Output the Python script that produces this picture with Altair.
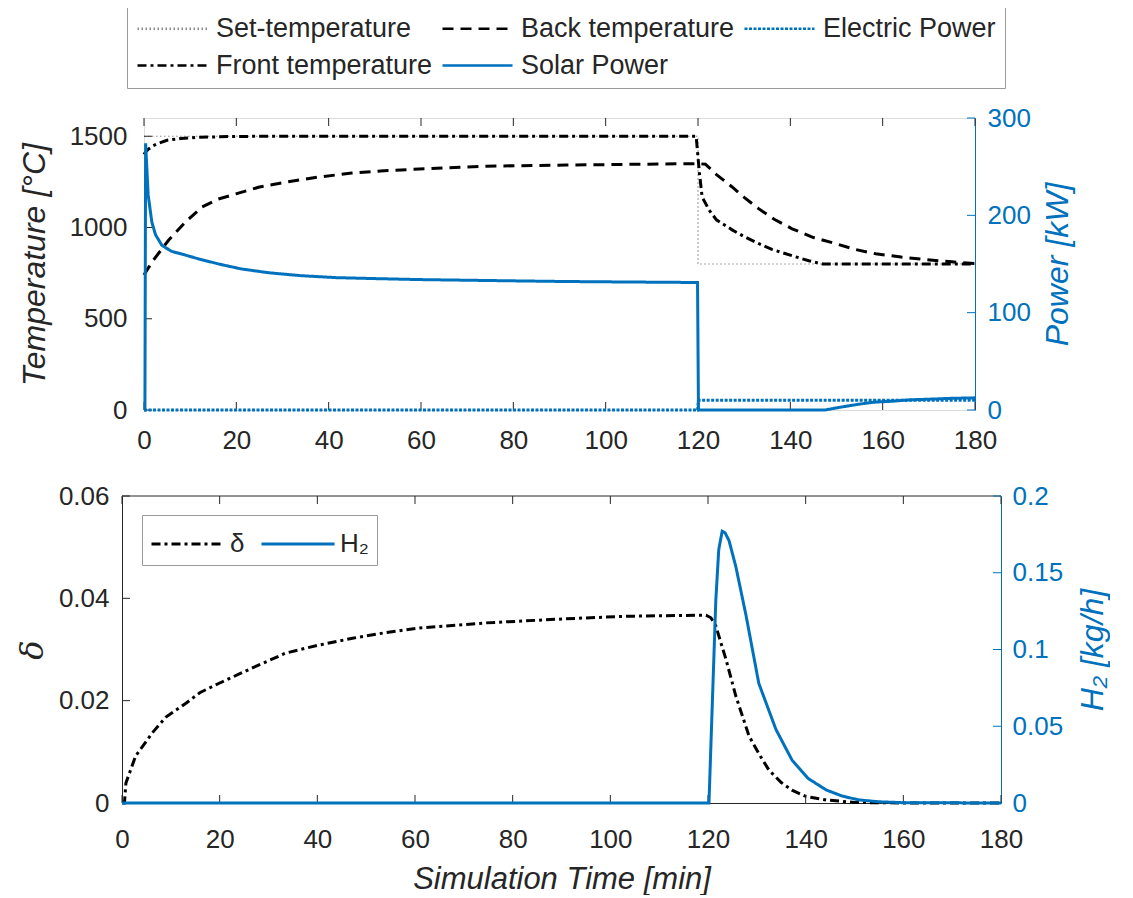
import altair as alt
import pandas as pd

BLUE = "#0072BD"
DARK = "#262626"
GRAY = "#8c8c8c"
FONT = "Liberation Sans"

# ---------------- tick values ----------------
x_ticks = [0, 20, 40, 60, 80, 100, 120, 140, 160, 180]
temp_ticks = [0, 500, 1000, 1500]
power_ticks = [0, 100, 200, 300]
delta_ticks = [0, 0.02, 0.04, 0.06]
h2_ticks = [0, 0.05, 0.1, 0.15, 0.2]

# ---------------- top panel series ----------------
# (legend fills column by column: this order gives the 3-column layout)
top_series = ["Set-temperature", "Front temperature", "Back temperature",
              "Solar Power", "Electric Power"]
top_colors = [GRAY, "black", "black", BLUE, BLUE]
top_dashes = [[1.5, 2.5], [9, 4, 3, 4], [11, 7], [1, 0], [3, 1.5]]
top_widths = {"Set-temperature": 1.2, "Front temperature": 3, "Back temperature": 3,
              "Solar Power": 3, "Electric Power": 3}

set_t = [0, 120, 120, 180]
set_v = [1500, 1500, 800, 800]

front_t = [0, 0.3, 1, 2, 3, 5, 8, 12, 16, 20, 30, 60, 90, 119.6, 120.3, 120.9,
           122.4, 124, 127.4, 130, 133.2, 136, 140.4, 144, 147, 150, 160, 170, 180]
front_v = [1400, 1413, 1430, 1448, 1460, 1478, 1488, 1494, 1497, 1499, 1500, 1500,
           1500, 1500, 1300, 1167, 1096, 1042, 987, 950, 911, 880, 845, 818, 800,
           800, 800, 800, 800]

back_t = [0, 0.7, 2, 5.4, 9, 12.6, 16, 19.9, 25, 30.8, 38, 45, 52, 59.6, 74, 91.4,
          105, 120, 121.6, 124, 127.4, 130, 133.2, 136.5, 140.4, 145, 149.9, 154,
          158.5, 164, 169.3, 175, 180]
back_v = [740, 769, 820, 933, 1030, 1113, 1155, 1184, 1222, 1249, 1277, 1298, 1311,
          1320, 1336, 1342, 1346, 1350, 1347, 1290, 1222, 1165, 1102, 1045, 993, 945,
          911, 880, 856, 838, 824, 812, 802]

solar_t = [0, 0.2, 0.35, 0.9, 1.7, 2.5, 3.9, 6, 9.1, 12, 16.2, 21, 27, 34, 41.6, 50,
           59.6, 75, 91.4, 105, 119.9, 120.1, 147.5, 151, 154.9, 158, 162, 166,
           169.3, 175, 180]
solar_v = [0, 0, 274, 221, 193, 180, 169, 163, 159, 155, 150, 145, 141, 138, 136,
           135, 134, 133, 132, 131.5, 131, 0, 0, 3, 6, 8, 9, 10.5, 11, 12, 12.5]

elec_t = [0, 119.9, 120.1, 180]
elec_v = [0, 0, 10, 10]

# ---------------- bottom panel series ----------------
bot_series = ["δ", "H₂"]
bot_colors = ["black", BLUE]
bot_dashes = [[9, 4, 3, 4], [1, 0]]
bot_widths = {"δ": 3, "H₂": 3}

delta_t = [0, 0.5, 0.8, 2.8, 6.2, 9, 13.1, 16, 19.9, 26.7, 33.5, 40, 47.2, 54, 60.8,
           74.5, 90.9, 103.2, 119.6, 120.6, 121.6, 123.7, 125.7, 128.4, 130.5, 132.5,
           135, 137.2, 140, 144.2, 150, 160, 180]
delta_v = [0, 0, 0.0039, 0.0092, 0.0137, 0.0168, 0.0195, 0.0216, 0.0234, 0.0264,
           0.0293, 0.0308, 0.0322, 0.0333, 0.0342, 0.0352, 0.0360, 0.0365, 0.0367,
           0.0362, 0.0346, 0.028, 0.0209, 0.0131, 0.0095, 0.0064, 0.0040, 0.0025,
           0.0013, 0.0006, 0.0001, 0, 0]

h2_t = [0, 120.2, 120.8, 121.6, 122.2, 122.9, 123.5, 124.3, 125.7, 127.8, 130.4,
        133.9, 137.2, 140.5, 144.2, 147.5, 150.9, 155, 160, 180]
h2_v = [0, 0, 0.057, 0.132, 0.165, 0.177, 0.176, 0.171, 0.154, 0.122, 0.078, 0.048,
        0.028, 0.016, 0.0085, 0.0045, 0.002, 0.0008, 0.0002, 0]


def frame(items, widths):
    rows = []
    for name, ts, vs in items:
        for i, (t, v) in enumerate(zip(ts, vs)):
            rows.append({"series": name, "t": t, "v": v, "i": i, "w": widths[name]})
    return pd.DataFrame(rows)


temp_df = frame([("Set-temperature", set_t, set_v),
                 ("Back temperature", back_t, back_v),
                 ("Front temperature", front_t, front_v)], top_widths)
power_df = frame([("Electric Power", elec_t, elec_v),
                  ("Solar Power", solar_t, solar_v)], top_widths)
delta_df = frame([("δ", delta_t, delta_v)], bot_widths)
h2_df = frame([("H₂", h2_t, h2_v)], bot_widths)


def axis(**kw):
    base = dict(labelFont=FONT, labelFontSize=26, labelColor=DARK, titleFont=FONT,
                titleFontSize=32, titleFontStyle="italic", titleFontWeight="normal",
                titleColor=DARK, ticks=False, tickSize=0, grid=False, domain=False,
                labelFlush=False, labelOverlap=False)
    base.update(kw)
    return alt.Axis(**base)


def lines(df, xs, xax, ys, yax, dom, cols, dashes, legend):
    return alt.Chart(df).mark_line().encode(
        x=alt.X("t:Q", scale=xs, axis=xax),
        y=alt.Y("v:Q", scale=ys, axis=yax),
        color=alt.Color("series:N", scale=alt.Scale(domain=dom, range=cols),
                        legend=legend, title=None),
        strokeDash=alt.StrokeDash("series:N", scale=alt.Scale(domain=dom, range=dashes),
                                  legend=legend, title=None),
        strokeWidth=alt.StrokeWidth("w:Q", scale=None, legend=None),
        order=alt.Order("i:Q"),
    )


def xticks(xs, xax, y0, y1):
    return alt.Chart(pd.DataFrame({"t": x_ticks})).mark_rule(
        color=DARK, strokeWidth=1).encode(
        x=alt.X("t:Q", scale=xs, axis=xax), y=alt.value(y0), y2=alt.value(y1))


def yticks(vals, ys, yax, x0, x1, color):
    return alt.Chart(pd.DataFrame({"v": vals})).mark_rule(
        color=color, strokeWidth=1).encode(
        y=alt.Y("v:Q", scale=ys, axis=yax), x=alt.value(x0), x2=alt.value(x1))


TICK = 8

# ---------------- top panel ----------------
W1, H1 = 831, 292
xs1 = alt.Scale(domain=[0, 180], nice=False, zero=False)
ts1 = alt.Scale(domain=[0, 1600], nice=False)
ps1 = alt.Scale(domain=[0, 300], nice=False)
xax1 = axis(values=x_ticks, format="d", title=None, labelPadding=17)
tax1 = axis(values=temp_ticks, format="d", title="Temperature [°C]",
            labelPadding=17, titlePadding=16, minExtent=77)
pax1 = axis(orient="right", values=power_ticks, format="d", title="Power [kW]",
            labelColor=BLUE, titleColor=BLUE, domain=True, domainColor=BLUE,
            domainWidth=1, labelPadding=12, titlePadding=12, titleAngle=270,
            titleBaseline="top")
leg1 = alt.Legend(orient="none", legendX=-17, legendY=-113, columns=3,
                  symbolType="M-1,0H4.385", symbolSize=676, symbolStrokeWidth=2.5,
                  labelFont=FONT, labelFontSize=27, labelColor=DARK, labelLimit=400,
                  strokeColor="#999999", fillColor="white", padding=9,
                  columnPadding=4, rowPadding=9, labelOffset=51)

temp_group = alt.layer(
    lines(temp_df, xs1, xax1, ts1, tax1, top_series, top_colors, top_dashes, leg1),
    xticks(xs1, xax1, H1, H1 - TICK),
    xticks(xs1, xax1, 0, TICK),
    yticks(temp_ticks, ts1, tax1, 0, TICK, DARK),
)
power_group = alt.layer(
    lines(power_df, xs1, xax1, ps1, pax1, top_series, top_colors, top_dashes, leg1),
    yticks(power_ticks, ps1, pax1, W1, W1 - TICK, BLUE),
)
top = alt.layer(temp_group, power_group).resolve_scale(y="independent").properties(
    width=W1, height=H1)

# ---------------- bottom panel ----------------
# the lower panel starts SHIFT px further left than the upper one
SHIFT = 22
W2, H2 = 857, 307
xs2 = alt.Scale(domain=[0, 180], nice=False, zero=False, range=[-SHIFT, W2])
ds2 = alt.Scale(domain=[0, 0.06], nice=False)
hs2 = alt.Scale(domain=[0, 0.2], nice=False)
xax2 = axis(values=x_ticks, format="d", title="Simulation Time [min]",
            labelPadding=23, titlePadding=12, titleFontSize=31,
            domain=True, domainColor=DARK, domainWidth=1)
dax2 = axis(values=delta_ticks, format="~g", title="δ", titleFont="DejaVu Serif",
            labelPadding=13, titlePadding=5, minExtent=68, offset=SHIFT,
            domain=True, domainColor=DARK, domainWidth=1)
hax2 = axis(orient="right", values=h2_ticks, format="~g", title="H₂ [kg/h]",
            labelColor=BLUE, titleColor=BLUE, domain=True, domainColor=BLUE,
            domainWidth=1, labelPadding=11, titlePadding=15, titleAngle=270,
            titleBaseline="top")
leg2 = alt.Legend(orient="none", legendX=-2, legendY=19, direction="horizontal",
                  symbolType="M-1,0H2.744", symbolSize=1521, symbolStrokeWidth=3,
                  labelFont=FONT, labelFontSize=26, labelColor=DARK,
                  strokeColor="#999999", fillColor="white", padding=8,
                  columnPadding=10, labelOffset=38)

top_edge = alt.Chart(pd.DataFrame({"t": [0], "t2": [180]})).mark_rule(
    color=DARK, strokeWidth=1).encode(
    x=alt.X("t:Q", scale=xs2, axis=xax2), x2="t2:Q", y=alt.value(0))

delta_group = alt.layer(
    lines(delta_df, xs2, xax2, ds2, dax2, bot_series, bot_colors, bot_dashes, leg2),
    top_edge,
    xticks(xs2, xax2, H2, H2 - TICK),
    xticks(xs2, xax2, 0, TICK),
    yticks(delta_ticks, ds2, dax2, -SHIFT, -SHIFT + TICK, DARK),
)
h2_group = alt.layer(
    lines(h2_df, xs2, xax2, hs2, hax2, bot_series, bot_colors, bot_dashes, leg2),
    yticks(h2_ticks, hs2, hax2, W2, W2 - TICK, BLUE),
)
bottom = alt.layer(delta_group, h2_group).resolve_scale(y="independent").properties(
    width=W2, height=H2, view=alt.ViewBackground(stroke="transparent"))

chart = alt.concat(top, bottom, columns=1, spacing=28, align="none").resolve_scale(
    x="independent", y="independent", color="independent",
    strokeDash="independent"
).properties(
    padding={"left": 7, "top": -4, "right": 0, "bottom": 0}
).configure_view(stroke=DARK, strokeWidth=1).configure(font=FONT)

chart.save("out.html", embed_options={"renderer": "svg", "actions": False})
